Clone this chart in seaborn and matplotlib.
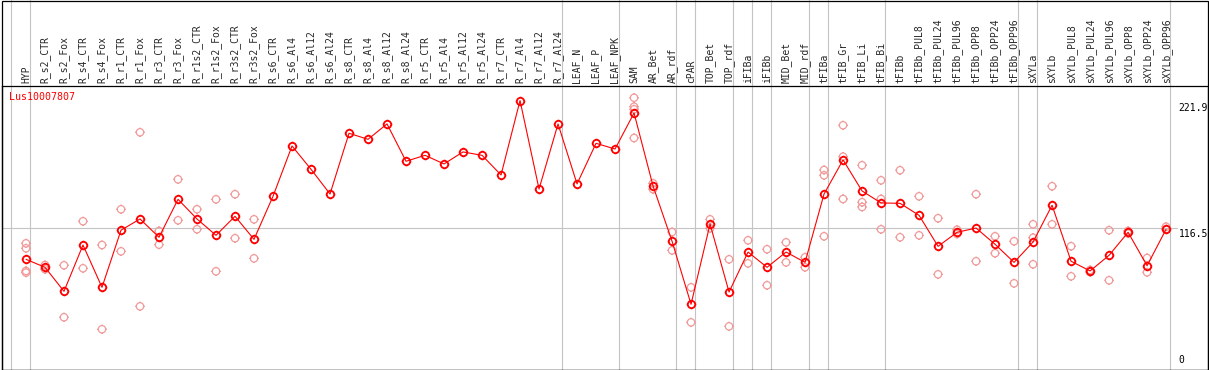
import numpy as np
import pandas as pd
import matplotlib
matplotlib.use("Agg")
import matplotlib.pyplot as plt
import seaborn as sns
from matplotlib.path import Path
from matplotlib.patches import Rectangle

# sample columns, left to right
labels = [
    "HYP", "R_s2_CTR", "R_s2_Fox", "R_s4_CTR", "R_s4_Fox", "R_r1_CTR", "R_r1_Fox",
    "R_r3_CTR", "R_r3_Fox", "R_r1s2_CTR", "R_r1s2_Fox", "R_r3s2_CTR", "R_r3s2_Fox",
    "R_s6_CTR", "R_s6_Al4", "R_s6_Al12", "R_s6_Al24", "R_s8_CTR", "R_s8_Al4",
    "R_s8_Al12", "R_s8_Al24", "R_r5_CTR", "R_r5_Al4", "R_r5_Al12", "R_r5_Al24",
    "R_r7_CTR", "R_r7_Al4", "R_r7_Al12", "R_r7_Al24", "LEAF_N", "LEAF_P", "LEAF_NPK",
    "SAM", "AR_Bet", "AR_rdf", "cPAR", "TOP_Bet", "TOP_rdf", "iFIBa", "iFIBb",
    "MID_Bet", "MID_rdf", "tFIBa", "tFIB_Gr", "tFIB_Li", "tFIB_Bi", "tFIBb",
    "tFIBb_PUL8", "tFIBb_PUL24", "tFIBb_PUL96", "tFIBb_OPP8", "tFIBb_OPP24",
    "tFIBb_OPP96", "sXYLa", "sXYLb", "sXYLb_PUL8", "sXYLb_PUL24", "sXYLb_PUL96",
    "sXYLb_OPP8", "sXYLb_OPP24", "sXYLb_OPP96",
]

# mean expression per column
means = [
    90.9, 84.3, 64.5, 102.7, 67.8, 114.9, 124.2, 109.1, 140.4, 124.2, 110.7, 126.4, 107.4,
    142.9, 184.4, 165.2, 144.8, 194.9, 189.9, 202.6, 171.8, 176.7, 169.6, 179.5, 176.7,
    160.5, 221.9, 148.9, 202.6, 153.1, 186.6, 181.9,
    211.6, 151.4, 105.8, 53.8, 120.0, 63.9, 96.9, 84.3, 96.9, 88.4,
    144.8, 172.9, 147.3, 137.4, 137.1, 127.2, 101.6, 113.2, 116.7, 103.3, 88.4,
    105.2, 135.5, 89.3, 81.3, 94.2, 113.2, 85.6, 115.7,
]

# individual replicates (columns not listed have none shown)
reps = {
    "HYP": [104.1, 100.0, 81.3, 79.9],
    "R_s2_CTR": [86.2, 82.7],
    "R_s2_Fox": [86.0, 43.1],
    "R_s4_CTR": [122.3, 83.5],
    "R_s4_Fox": [102.7, 33.2],
    "R_r1_CTR": [132.2, 97.5],
    "R_r1_Fox": [195.7, 52.1],
    "R_r3_CTR": [114.3, 103.0],
    "R_r3_Fox": [156.9, 123.1],
    "R_r1s2_CTR": [132.2, 115.7],
    "R_r1s2_Fox": [140.4, 81.0],
    "R_r3s2_CTR": [144.6, 108.3],
    "R_r3s2_Fox": [123.9, 91.7],
    "SAM": [224.2, 216.8, 214.7, 191.0],
    "AR_Bet": [153.6, 148.7],
    "AR_rdf": [113.4, 98.3],
    "cPAR": [67.8, 38.9],
    "TOP_Bet": [123.9, 116.5],
    "TOP_rdf": [90.9, 35.6],
    "iFIBa": [106.6, 87.6],
    "iFIBb": [99.2, 69.5],
    "MID_Bet": [104.9, 88.4],
    "MID_rdf": [92.6, 84.3],
    "tFIBa": [164.6, 160.2, 109.9],
    "tFIB_Gr": [201.5, 175.6, 140.7],
    "tFIB_Li": [168.5, 138.0, 134.1],
    "tFIB_Bi": [156.1, 140.7, 115.7],
    "tFIBb": [164.4, 109.1],
    "tFIBb_PUL8": [142.9, 110.7],
    "tFIBb_PUL24": [124.8, 78.5],
    "tFIBb_PUL96": [115.3, 111.8],
    "tFIBb_OPP8": [144.6, 89.3],
    "tFIBb_OPP24": [109.9, 95.9],
    "tFIBb_OPP96": [105.8, 71.1],
    "sXYLa": [119.8, 108.7, 86.8],
    "sXYLb": [151.2, 119.8],
    "sXYLb_PUL8": [101.7, 76.9],
    "sXYLb_PUL24": [82.1, 80.4],
    "sXYLb_PUL96": [114.9, 73.6],
    "sXYLb_OPP8": [114.3, 112.2],
    "sXYLb_OPP24": [92.0, 80.2],
    "sXYLb_OPP96": [117.8, 115.7],
}

# group separators: drawn just after these column indices
group_ends = [-1, 0, 28, 31, 34, 35, 37, 38, 39, 41, 42, 45, 52, 53, 60]
gene = "Lus10007807"
y_max = 221.9
y_mid = 116.5

sns.set_style("white")
plt.rcParams["font.family"] = ["DejaVu Sans Mono", "DejaVu Sans"]

W, H = 1209, 370
fig = plt.figure(figsize=(W / 100, H / 100), dpi=100)
ax = fig.add_axes([1.5 / W, 0.5 / H, 1206 / W, 284 / H])
ax.set_facecolor("none")

df_mean = pd.DataFrame({"pos": np.arange(len(labels)), "value": means})
df_rep = pd.DataFrame(
    [(labels.index(k), v) for k, vals in reps.items() for v in vals],
    columns=["pos", "value"],
)

# open circle with four short ticks, like the original markers
circ = Path.unit_circle()
tv, tc = [], []
for dx, dy in [(0, 1), (0, -1), (1, 0), (-1, 0)]:
    tv += [(dx, dy), (1.28 * dx, 1.28 * dy)]
    tc += [Path.MOVETO, Path.LINETO]
mark = Path.make_compound_path(circ, Path(tv, tc))

grey = "#c4c4c4"
for g in group_ends:
    ax.axvline(g + 4 / 19, ymin=0, ymax=1.31, color=grey, lw=0.8, clip_on=False, zorder=0)
ax.axhline(y_mid, xmin=0, xmax=0.975, color=grey, lw=0.8, zorder=0)

pink = "#f29a9a"
sns.scatterplot(data=df_rep, x="pos", y="value", ax=ax, marker=mark, s=46,
                color=pink, facecolor="none", edgecolor=pink, linewidth=0.9, zorder=2)
sns.lineplot(data=df_mean, x="pos", y="value", ax=ax, color="red", lw=0.8,
             marker=mark, markersize=6.8, markerfacecolor="none",
             markeredgecolor="red", markeredgewidth=1.3, zorder=3)

ax.set_xlim(-1.289, 62.18)
ax.set_ylim(0, 234.3)
ax.set_xlabel("")
ax.set_ylabel("")
ax.set_yticks([])
ax.xaxis.tick_top()
ax.set_xticks(range(len(labels)))
ax.set_xticklabels(labels, rotation=90, fontsize=7)
ax.tick_params(axis="x", length=0, pad=2)
for s in ax.spines.values():
    s.set_color("black")
    s.set_linewidth(0.9)

ax.annotate(gene, xy=(0, 1), xycoords="axes fraction", xytext=(5.4, -8.3),
            textcoords="offset points", va="center", ha="left", color="red", fontsize=7.2)

for v, va, dy in [(y_max, "top", -2), (y_mid, "top", -0.5), (0, "bottom", 3.5)]:
    ax.annotate(f"{v:g}", xy=(1, v), xycoords=("axes fraction", "data"),
                xytext=(-20.7, dy), textcoords="offset points", va=va, ha="left",
                fontsize=7, color="black")

fig.add_artist(Rectangle((1.5 / W, 0.5 / H), 1206 / W, 369 / H, transform=fig.transFigure,
                         fill=False, edgecolor="black", lw=0.9))

fig.savefig("out.png", dpi=100, facecolor="white")
